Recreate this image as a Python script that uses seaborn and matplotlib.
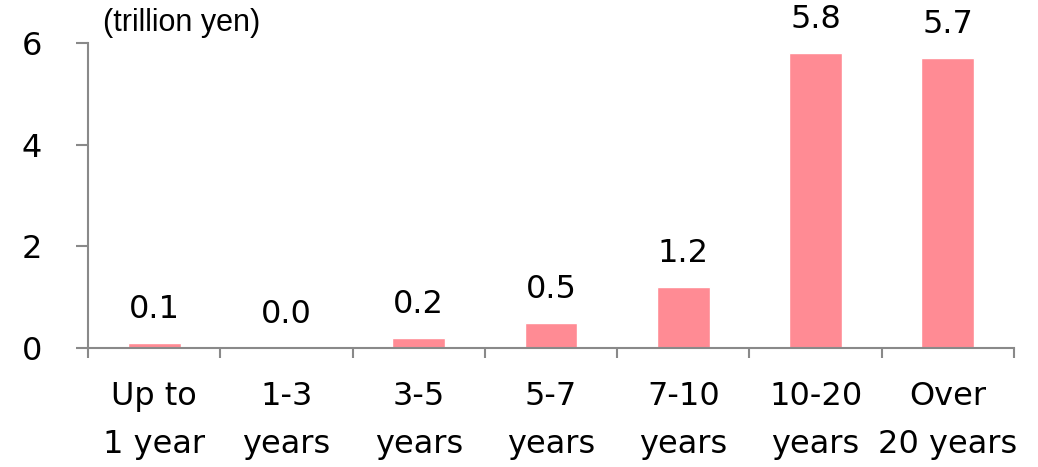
import matplotlib
matplotlib.use("Agg")
import matplotlib.pyplot as plt
import seaborn as sns
import pandas as pd
import numpy as np

categories = ["Up to\n1 year", "1-3\nyears", "3-5\nyears", "5-7\nyears",
              "7-10\nyears", "10-20\nyears", "Over\n20 years"]
values = [0.1, 0.0, 0.2, 0.5, 1.2, 5.8, 5.7]
value_labels = ["0.1", "0.0", "0.2", "0.5", "1.2", "5.8", "5.7"]
y_ticks = [0, 2, 4, 6]

sns.set_style("white")
plt.rcParams['font.family'] = ['DejaVu Sans']
plt.rcParams['text.color'] = 'black'
plt.rcParams['xtick.labelcolor'] = 'black'
plt.rcParams['ytick.labelcolor'] = 'black'

df = pd.DataFrame({"cat": categories, "val": values})

fig = plt.figure(figsize=(10.38, 4.67), dpi=100)
ax = fig.add_axes([0.0848, 0.2548, 0.9769 - 0.0848, 0.9079 - 0.2548])

sns.barplot(data=df, x="cat", y="val", color="#FF8B94", saturation=1,
            width=0.4, ax=ax, order=categories)

ax.set_xlim(-0.5, 6.5)
ax.set_ylim(0, 6)
ax.set_yticks(y_ticks)
ax.set_yticklabels([str(t) for t in y_ticks], fontsize=23, color="black")

# category boundaries as major ticks, labels on minor ticks
ax.set_xticks(np.arange(-0.5, 7.0, 1.0))
ax.set_xticklabels([])
ax.set_xticks(np.arange(0, 7), minor=True)
ax.set_xticklabels(categories, minor=True, fontsize=23, linespacing=1.7, color="black")
ax.tick_params(axis="x", which="major", length=7, width=1.5, color="#898989", direction="out", bottom=True)
ax.tick_params(axis="x", which="minor", length=0, pad=24)
ax.tick_params(axis="y", which="major", length=9, width=1.5, color="#898989", direction="out", left=True, pad=24)

for s in ["top", "right"]:
    ax.spines[s].set_visible(False)
for s in ["left", "bottom"]:
    ax.spines[s].set_color("#898989")
    ax.spines[s].set_linewidth(1.5)

ax.set_xlabel("")
ax.set_ylabel("")

for cont in ax.containers:
    texts = ax.bar_label(cont, labels=value_labels, padding=13, fontsize=23, color="black")
    for t in texts:
        t.set_clip_on(False)

fig.text(0.099, 0.950, "(trillion yen)", fontsize=22, family="Liberation Sans",
         ha="left", va="center", color="black")

fig.savefig("out.png", dpi=100)
